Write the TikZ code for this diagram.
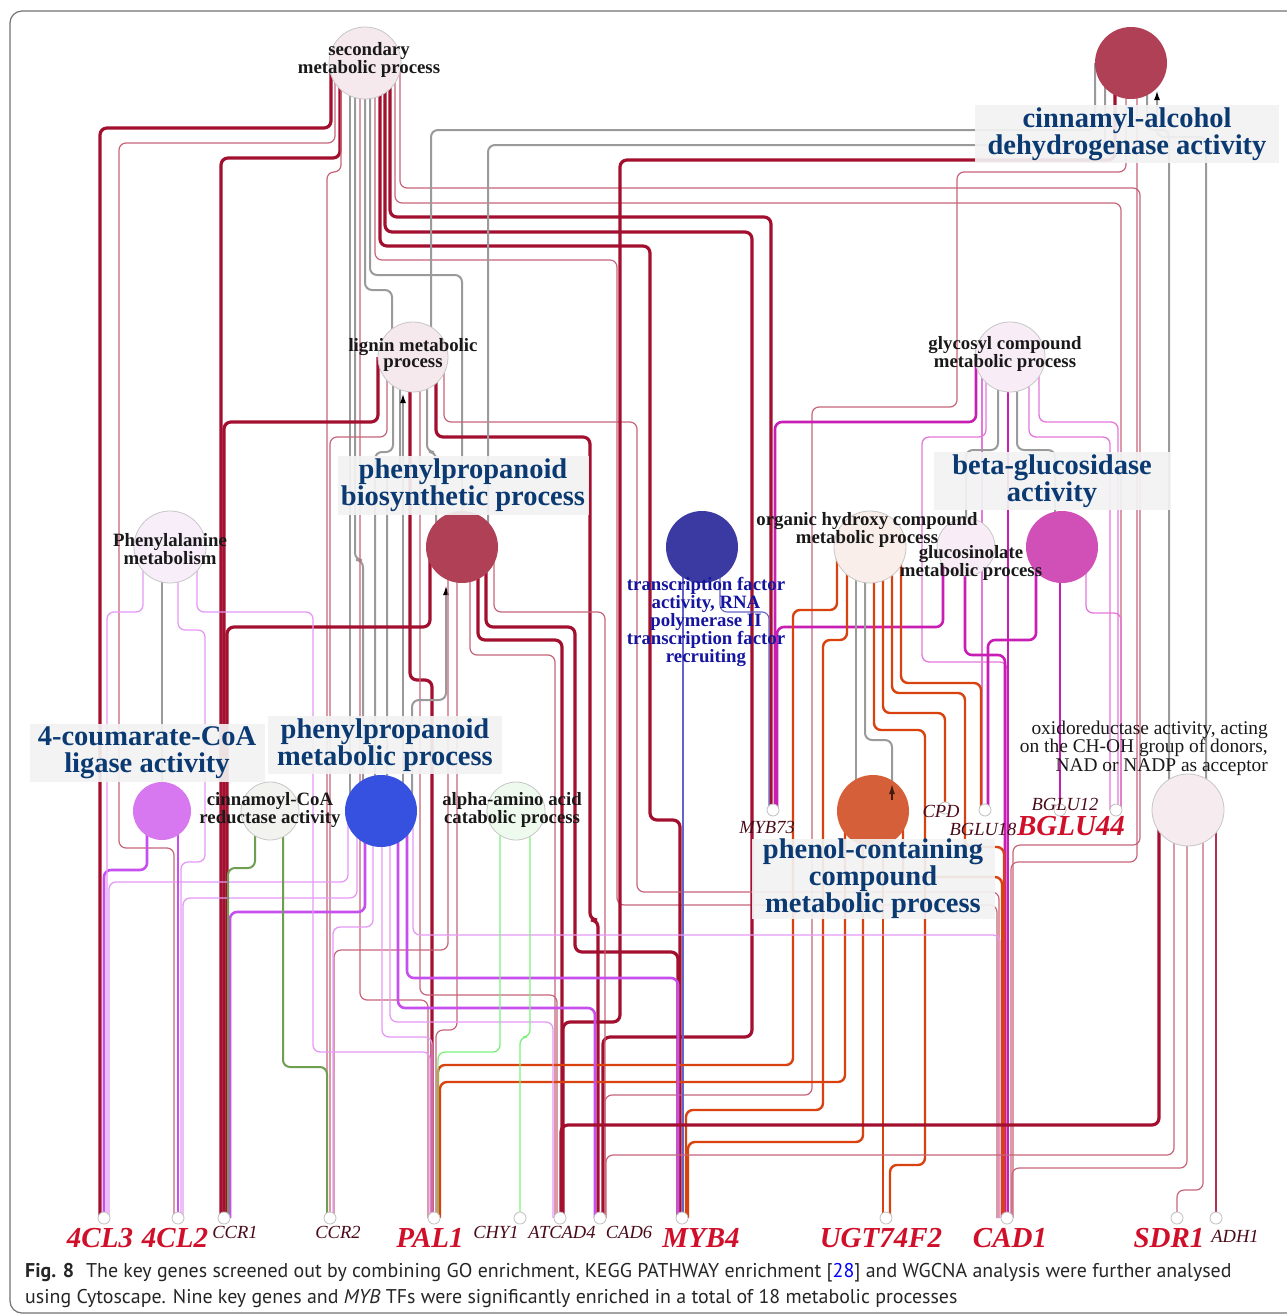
\documentclass[tikz,border=0pt]{standalone}
\usepackage{fontspec}
\setmainfont{Liberation Serif}
\newfontfamily\capfont{PT Sans}
\usetikzlibrary{calc,backgrounds,arrows.meta}
\definecolor{dkred}{HTML}{A3102F}
\definecolor{pkred}{HTML}{C86478}
\definecolor{gyl}{HTML}{9A9A9A}
\definecolor{vio}{HTML}{C64FEE}
\definecolor{viol}{HTML}{E69AF6}
\definecolor{grn}{HTML}{6E9E50}
\definecolor{lgrn}{HTML}{7CF07C}
\definecolor{orng}{HTML}{D9420F}
\definecolor{mag}{HTML}{C81EB4}
\definecolor{magl}{HTML}{E477DA}
\definecolor{tfline}{HTML}{6464C8}
\definecolor{adh}{HTML}{B03050}
\definecolor{titleblue}{HTML}{0B3A73}
\definecolor{tfblue}{HTML}{1515A0}
\definecolor{genered}{HTML}{D0102A}
\definecolor{genedark}{HTML}{4A0A18}
\definecolor{boxgray}{HTML}{F2F2F2}
\definecolor{cLight}{HTML}{F6E9EE}
\definecolor{cRed}{HTML}{B04055}
\definecolor{cLav}{HTML}{F8EDF6}
\definecolor{cPhe}{HTML}{F8EEFA}
\definecolor{cTF}{HTML}{3A3AA2}
\definecolor{cOH}{HTML}{F9EEEA}
\definecolor{cBG}{HTML}{D050B8}
\definecolor{cCL}{HTML}{D878F0}
\definecolor{cCR}{HTML}{F2F3EF}
\definecolor{cP2}{HTML}{3650E0}
\definecolor{cAA}{HTML}{EEFAEE}
\definecolor{cPH}{HTML}{D55F38}
\definecolor{cOX}{HTML}{F6EBEF}
\newcommand\gedge[7]{\draw[#1] let \p1=(#2), \p2=(#6) in (\x1+#3pt,\y1) #4 |- (\x2+#7pt,-#5pt) -- (\x2+#7pt,\y2);}
\newcommand\vedge[4]{\draw[#1] let \p1=(#2), \p2=(#4) in (\x1+#3pt,\y1) -- (\x1+#3pt,\y2);}
\begin{document}
\begin{tikzpicture}[x=1pt,y=-1pt,
  ln/.style={rounded corners=7pt},
  edk/.style={ln, draw=dkred, line width=3.2pt},
  epk/.style={ln, draw=pkred, line width=1.2pt},
  egy/.style={ln, draw=gyl, line width=2pt},
  evt/.style={ln, draw=vio, line width=2.6pt},
  evl/.style={ln, draw=viol, line width=1.3pt},
  egr/.style={ln, draw=grn, line width=2pt},
  elg/.style={ln, draw=lgrn, line width=1.3pt},
  eor/.style={ln, draw=orng, line width=2.4pt},
  emg/.style={ln, draw=mag, line width=2.6pt},
  eml/.style={ln, draw=magl, line width=1.3pt},
  ebl/.style={ln, draw=tfline, line width=1.1pt},
  eadh/.style={ln, draw=adh, line width=1.8pt},
  tipk/.style={-{Latex[length=10pt,width=6pt,color=black]}},
  gon/.style={circle, inner sep=0pt, minimum size=#1},
  lite/.style={draw=black!22, line width=0.8pt},
  gene/.style={circle, inner sep=0pt, minimum size=12pt, fill=white, draw=black!25, line width=0.8pt},
  lbox/.style={fill=boxgray, fill opacity=0.92, text opacity=1, inner sep=0pt, align=center,
     text=titleblue, font=\bfseries\fontsize{28.5}{25.5}\selectfont},
  lab/.style={align=center, text=black!90, inner sep=0pt, font=\bfseries\fontsize{18.8}{16.5}\selectfont},
  bigg/.style={inner sep=0pt, text=genered, font=\bfseries\itshape\fontsize{29}{29}\selectfont},
  smg/.style={inner sep=0pt, text=genedark, font=\itshape\fontsize{18.5}{18.5}\selectfont},
  captext/.style={inner sep=0pt, font=\capfont\fontsize{19.9}{24}\selectfont, text=black!85}
]
\useasboundingbox (0,0) rectangle (1287,1314);

% ---------- GO term nodes ----------
\node[gon=72pt, fill=cLight, lite] (S) at (365,63) {};
\node[gon=70pt, fill=cLight, lite] (L) at (413,357) {};
\node[gon=72pt, fill=cRed] (C) at (1131,63) {};
\node[gon=70pt, fill=cLav, lite] (G) at (1010,357) {};
\node[gon=72pt, fill=cPhe, lite] (F) at (170,547) {};
\node[gon=72pt, fill=cRed] (PB) at (462,547) {};
\node[gon=72pt, fill=cTF] (TF) at (702,547) {};
\node[gon=72pt, fill=cOH, lite] (OH) at (870,547) {};
\node[gon=58pt, fill=cLav, lite] (GS) at (966,547) {};
\node[gon=72pt, fill=cBG] (BG) at (1062,547) {};
\node[gon=58pt, fill=cCL] (CL) at (162,811) {};
\node[gon=58pt, fill=cCR, lite] (CR) at (270,811) {};
\node[gon=72pt, fill=cP2] (P2) at (381,811) {};
\node[gon=58pt, fill=cAA, lite] (AA) at (516,811) {};
\node[gon=72pt, fill=cPH] (PH) at (873,811) {};
\node[gon=72pt, fill=cOX, lite] (OX) at (1188,810) {};

% ---------- gene nodes ----------
\node[gene] (g4CL3) at (104,1218) {};
\node[gene] (g4CL2) at (178,1218) {};
\node[gene] (gCCR1) at (224,1218) {};
\node[gene] (gCCR2) at (330,1218) {};
\node[gene] (gPAL1) at (434,1218) {};
\node[gene] (gCHY1) at (520,1218) {};
\node[gene] (gATCAD4) at (560,1218) {};
\node[gene] (gCAD6) at (600,1218) {};
\node[gene] (gMYB4) at (682,1218) {};
\node[gene] (gUGT) at (886,1218) {};
\node[gene] (gCAD1) at (1007,1218) {};
\node[gene] (gSDR1) at (1177,1218) {};
\node[gene] (gADH1) at (1216,1218) {};
\node[gene] (gMYB73) at (773,810) {};
\node[gene] (gCPD) at (945,808) {};
\node[gene] (gBGLU18) at (985,810) {};
\node[gene] (gBGLU12) at (1060,810) {};
\node[gene] (gBGLU44) at (1116,810) {};

% ---------- edges ----------
\begin{pgfonlayer}{background}
\fill[white] (0,0) rectangle (1287,1314);
\draw[black!55, line width=1.2pt, rounded corners=12pt] (10,11) rectangle (1320,1313);
% secondary metabolic process
\gedge{edk}{S}{-34}{}{128}{g4CL3}{-4}
\gedge{epk}{S}{-30}{|- (119,143)}{848}{g4CL2}{-4}
\gedge{edk}{S}{-25}{}{158}{gCCR1}{-3}
\gedge{epk}{S}{-24}{}{172}{gCCR2}{-3}
\vedge{egy}{S}{-15}{P2}
\gedge{egy}{S}{-10}{}{560}{P2}{-18}
\gedge{egy}{S}{0}{}{290}{L}{-21}
\gedge{egy}{S}{5}{}{275}{PB}{0}
\gedge{epk}{S}{-5}{}{1000}{gPAL1}{-6}
\gedge{epk}{S}{10}{|- (617,260)}{905}{gCAD1}{-10}
\gedge{edk}{S}{15}{|- (650,246)}{820}{gMYB4}{-2}
\gedge{edk}{S}{20}{|- (752,232)}{1037}{gCAD6}{3}
\gedge{edk}{S}{25}{}{217}{gMYB73}{-2}
\gedge{epk}{S}{30}{}{203}{gBGLU44}{5}
\gedge{epk}{S}{35}{|- (1140,188)}{845}{gCAD1}{6}
% lignin metabolic process
\gedge{edk}{L}{-35}{}{422}{gCCR1}{0}
\gedge{epk}{L}{-26}{}{437}{gCCR2}{0}
\gedge{egy}{L}{-20}{}{452}{P2}{-6}
\gedge{egy}{L}{-13}{}{470}{P2}{6}
\draw[egy,tipk] let \p1=(P2), \p2=(L) in (\x1+22pt,\y1) -- (\x1+22pt,\y2-36pt);
\gedge{edk}{L}{-3}{}{680}{gPAL1}{-2}
\gedge{epk}{L}{7}{}{995}{gATCAD4}{-3}
\gedge{egy}{L}{14}{}{452}{PB}{-26}
\gedge{edk}{L}{23}{|- (590,437)}{920}{gCAD6}{-2}
\gedge{epk}{L}{31}{|- (637,422)}{892}{gCAD1}{-8}
% phenylpropanoid biosynthetic process
\gedge{edk}{PB}{-32}{}{627}{gCCR1}{3}
\draw[egy,tipk] let \p1=(P2), \p2=(PB) in (\x1+31pt,\y1) |- (446,700) -- (\x2-16pt,\y2-38pt);
\gedge{epk}{PB}{-5}{}{1030}{gPAL1}{2}
\gedge{epk}{PB}{-14}{}{950}{gCCR2}{4}
\gedge{epk}{PB}{8}{}{655}{gATCAD4}{-5}
\gedge{edk}{PB}{16}{}{640}{gATCAD4}{2}
\gedge{edk}{PB}{24}{|- (575,627)}{952}{gMYB4}{-4}
\gedge{epk}{PB}{32}{}{612}{gCAD6}{5}
% cinnamyl-alcohol dehydrogenase activity
\gedge{egy}{C}{-36}{}{130}{L}{18}
\gedge{egy}{C}{-26}{}{145}{PB}{26}
\gedge{edk}{C}{-16}{|- (620,160)}{1022}{gATCAD4}{3}
\gedge{epk}{C}{-5}{|- (957,172) |- (812,407)}{1095}{gCAD6}{5}
\gedge{epk}{C}{6}{}{862}{gCAD1}{4}
\gedge{egy}{C}{16}{}{130}{OX}{-19}
\draw[egy,tipk] let \p1=(OX), \p2=(C) in (\x1+18pt,\y1) |- (1157,137) -- (\x2+26pt,\y2-27pt);
% glycosyl compound metabolic process
\gedge{emg}{G}{-34}{}{422}{gMYB73}{2}
\gedge{eml}{G}{-24}{|- (922,437)}{662}{gCAD1}{0}
\vedge{eml}{G}{-28}{gBGLU18}
\gedge{egy}{G}{-12}{}{450}{GS}{0}
\vedge{emg}{G}{-2}{gCAD1}
\gedge{egy}{G}{7}{}{450}{BG}{-7}
\gedge{eml}{G}{19}{}{437}{gBGLU44}{-6}
\gedge{eml}{G}{29}{}{422}{gBGLU44}{2}
% glucosinolate metabolic process
\gedge{emg}{GS}{-23}{}{627}{gMYB73}{4}
\gedge{emg}{GS}{-1}{}{655}{gCAD1}{-2}
% beta-glucosidase activity
\gedge{emg}{BG}{-26}{}{640}{gBGLU18}{3}
\vedge{emg}{BG}{-2}{gBGLU12}
\gedge{eml}{BG}{24}{}{613}{gBGLU44}{5}
% transcription factor
\gedge{ebl}{TF}{18}{}{612}{gMYB73}{-4}
\vedge{ebl}{TF}{-19}{gMYB4}
% organic hydroxy compound metabolic process
\gedge{eor}{OH}{-33}{|- (793,610)}{1065}{gPAL1}{4}
\gedge{eor}{OH}{-23}{|- (823,640)}{1110}{gMYB4}{4}
\vedge{egy}{OH}{-14}{PH}
\gedge{egy}{OH}{-5}{}{740}{PH}{19}
\gedge{eor}{OH}{4}{|- (925,730)}{1165}{gUGT}{4}
\gedge{eor}{OH}{13}{}{713}{gCPD}{0}
\gedge{eor}{OH}{22}{|- (965,693)}{847}{gCAD1}{-3}
\gedge{eor}{OH}{31}{}{683}{gBGLU18}{-4}
% phenol-containing compound metabolic process
\vedge{eor}{PH}{10}{gUGT}
\gedge{eor}{PH}{-28}{}{1082}{gPAL1}{6}
\gedge{eor}{PH}{-10}{}{1142}{gMYB4}{6}
\gedge{eor}{PH}{30}{}{877}{gCAD1}{-5}
% phenylpropanoid metabolic process
\gedge{evl}{P2}{-33}{}{882}{g4CL3}{5}
\gedge{evl}{P2}{-24}{}{898}{g4CL2}{5}
\gedge{evt}{P2}{-16}{}{912}{gCCR1}{6}
\gedge{evl}{P2}{-8}{}{927}{gCCR2}{3}
\gedge{evl}{P2}{1}{}{1037}{gPAL1}{-2}
\gedge{evl}{P2}{9}{}{1022}{gATCAD4}{-7}
\gedge{evt}{P2}{17}{}{1008}{gCAD6}{-5}
\gedge{evt}{P2}{26}{}{978}{gMYB4}{-4}
\gedge{evl}{P2}{32}{}{935}{gCAD1}{-7}
% 4-coumarate-CoA ligase, Phenylalanine metabolism
\gedge{evt}{CL}{-15}{}{870}{g4CL3}{0}
\vedge{evt}{CL}{16}{g4CL2}
\vedge{egy}{F}{-8}{CL}
\gedge{evl}{F}{-27}{}{612}{g4CL3}{3}
\gedge{evl}{F}{8}{|- (205,630)}{862}{g4CL2}{3}
\gedge{evl}{F}{27}{|- (313,612)}{1052}{gPAL1}{-4}
% cinnamoyl-CoA reductase, alpha-amino acid
\gedge{egr}{CR}{-15}{}{868}{gCCR1}{4}
\gedge{egr}{CR}{13}{}{1067}{gCCR2}{-3}
\gedge{elg}{AA}{-16}{}{1052}{gPAL1}{4}
\gedge{elg}{AA}{14}{}{1037}{gCHY1}{0}
% oxidoreductase
\gedge{edk}{OX}{-29}{}{1125}{gATCAD4}{1}
\gedge{epk}{OX}{-14}{}{1155}{gCAD6}{6}
\gedge{epk}{OX}{-1}{}{1168}{gCAD1}{5}
\gedge{epk}{OX}{15}{}{1190}{gSDR1}{0}
\vedge{eadh}{OX}{28}{gADH1}
\end{pgfonlayer}

% arrow tip drawn over the phenol-containing node
\draw[draw=black!70!cPH, line width=1.4pt, -{Latex[length=10pt,width=6pt]}] ($(PH)+(19,-11)$) -- ($(PH)+(19,-27)$);

% ---------- label boxes ----------
\node[lbox, minimum width=304pt, minimum height=58pt] (Cb) at (1127,134) {cinnamyl-alcohol\\dehydrogenase activity};
\node[lbox, minimum width=251pt, minimum height=59pt] (PBb) at (463,485) {phenylpropanoid\\biosynthetic process};
\node[lbox, minimum width=236pt, minimum height=58pt] (BGb) at (1052,481) {beta-glucosidase\\activity};
\node[lbox, minimum width=235pt, minimum height=58pt, font=\bfseries\fontsize{28.5}{27}\selectfont] (CLb) at (147,753) {4-coumarate-CoA\\ligase activity};
\node[lbox, minimum width=234pt, minimum height=58pt] (P2b) at (385,745) {phenylpropanoid\\metabolic process};
\node[lbox, minimum width=243pt, minimum height=80pt] (PHb) at (873,879) {phenol-containing\\compound\\metabolic process};

% ---------- small labels ----------
\node[lab] (Sl) at (369,60) {secondary\\metabolic process};
\node[lab] (Ll) at (413,355) {lignin metabolic\\process};
\node[lab] (Gl) at (1005,354) {glycosyl compound\\metabolic process};
\node[lab] (Fl) at (170,549) {Phenylalanine\\metabolism};
\node[lab] (OHl) at (867,530) {organic hydroxy compound\\metabolic process};
\node[lab] (GSl) at (971,563) {glucosinolate\\metabolic process};
\node[lab] (CRl) at (270,810) {cinnamoyl-CoA\\reductase activity};
\node[lab] (AAl) at (512,810) {alpha-amino acid\\catabolic process};
\node[lab, text=tfblue, font=\bfseries\fontsize{18.8}{16}\selectfont] (TFl) at (706,622) {transcription factor\\activity, RNA\\polymerase II\\transcription factor\\recruiting};
\node[inner sep=0pt, align=right, anchor=east, text=black!90, font=\fontsize{19.4}{18.5}\selectfont] (OXl) at (1268,748) {oxidoreductase activity, acting\\on the CH-OH group of donors,\\NAD or NADP as acceptor};

% ---------- gene labels ----------
\node[bigg] (l4CL3) at (100,1238) {4CL3};
\node[bigg] (l4CL2) at (175,1238) {4CL2};
\node[smg] (lCCR1) at (235,1232) {CCR1};
\node[smg] (lCCR2) at (338,1232) {CCR2};
\node[bigg] (lPAL1) at (430,1238) {PAL1};
\node[smg] (lCHY1) at (496,1232) {CHY1};
\node[smg] (lATCAD4) at (562,1232) {ATCAD4};
\node[smg] (lCAD6) at (629,1232) {CAD6};
\node[bigg] (lMYB4) at (701,1238) {MYB4};
\node[bigg] (lUGT) at (881,1238) {UGT74F2};
\node[bigg] (lCAD1) at (1010,1238) {CAD1};
\node[bigg] (lSDR1) at (1169,1238) {SDR1};
\node[smg] (lADH1) at (1235,1236) {ADH1};
\node[smg] (lMYB73) at (767,827) {MYB73};
\node[smg] (lCPD) at (941,811) {CPD};
\node[smg] (lBGLU18) at (983,829) {BGLU18};
\node[smg] (lBGLU12) at (1065,804) {BGLU12};
\node[bigg] (lBGLU44) at (1071,826) {BGLU44};

% ---------- caption ----------
\node[captext, anchor=base west] (cap1) at (25,1277) {\textbf{Fig. 8}\hspace{0.6em}The key genes screened out by combining GO enrichment, KEGG PATHWAY enrichment [\textcolor{blue}{28}] and WGCNA analysis were further analysed};
\node[captext, anchor=base west] (cap2) at (25,1303) {using Cytoscape. Nine key genes and \textit{MYB} TFs were significantly enriched in a total of 18 metabolic processes};
\end{tikzpicture}
\end{document}
